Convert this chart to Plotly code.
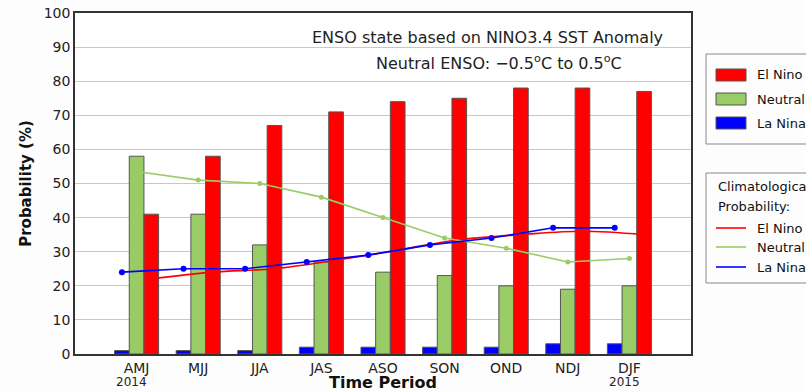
import plotly.graph_objects as go

# ---------------- data ----------------
categories = ["AMJ", "MJJ", "JJA", "JAS", "ASO", "SON", "OND", "NDJ", "DJF"]
year_labels = ["2014", "", "", "", "", "", "", "", "2015"]
la_nina = [1, 1, 1, 2, 2, 2, 2, 3, 3]
neutral = [58, 41, 32, 27, 24, 23, 20, 19, 20]
el_nino = [41, 58, 67, 71, 74, 75, 78, 78, 77]
clim_la_nina = [24, 25, 25, 27, 29, 32, 34, 37, 37]
clim_neutral = [53.5, 51, 50, 46, 40, 34, 31, 27, 28]
clim_el_nino = [22, 24, 25, 27.5, 30.5, 33.5, 35, 36, 35]
y_ticks = [0, 10, 20, 30, 40, 50, 60, 70, 80, 90, 100]

# ---------------- styling ----------------
RED = "#ff0000"
GREEN = "#99cc66"
BLUE = "#0000ff"
FONT = "DejaVu Sans"
W, H = 806, 392
ML, MR, MT, MB = 75, 115, 13, 38
PW, PH = W - ML - MR, H - MT - MB
BARGAP = 0.285
bw = (1 - BARGAP) / 3

pos = list(range(1, len(categories) + 1))


def px(x):
    return (x - ML) / PW


def py(y):
    return (H - MB - y) / PH


fig = go.Figure()

# climatological lines first so bars draw over them
fig.add_trace(go.Scatter(x=[p + bw for p in pos], y=clim_el_nino, mode="lines",
                         line=dict(color=RED, width=1.6, shape="spline", smoothing=1),
                         name="Clim El Nino", showlegend=False, hoverinfo="y"))
fig.add_trace(go.Scatter(x=pos, y=clim_neutral, mode="lines+markers",
                         line=dict(color=GREEN, width=1.6), marker=dict(size=5, color=GREEN),
                         name="Clim Neutral", showlegend=False, hoverinfo="y"))
fig.add_trace(go.Scatter(x=[p - bw for p in pos], y=clim_la_nina, mode="lines+markers",
                         line=dict(color=BLUE, width=1.6), marker=dict(size=6, color=BLUE),
                         name="Clim La Nina", showlegend=False, hoverinfo="y"))

bar_line = dict(color="#555555", width=1)
fig.add_trace(go.Bar(x=pos, y=la_nina, name="La Nina", marker=dict(color=BLUE, line=bar_line), showlegend=False))
fig.add_trace(go.Bar(x=pos, y=neutral, name="Neutral", marker=dict(color=GREEN, line=bar_line), showlegend=False))
fig.add_trace(go.Bar(x=pos, y=el_nino, name="El Nino", marker=dict(color=RED, line=bar_line), showlegend=False))

shapes = []
annotations = []

# text box in the plot
annotations.append(dict(x=px(487.5), y=py(37), xref="paper", yref="paper", showarrow=False,
                        text="ENSO state based on NINO3.4 SST Anomaly",
                        font=dict(family=FONT, size=16, color="#222222"), xanchor="center", yanchor="middle"))
annotations.append(dict(x=px(499), y=py(63), xref="paper", yref="paper", showarrow=False,
                        text="Neutral ENSO: \u22120.5<sup>o</sup>C to 0.5<sup>o</sup>C",
                        font=dict(family=FONT, size=16, color="#222222"), xanchor="center", yanchor="middle"))

# year labels under first/last categories
for p, yl in zip(pos, year_labels):
    if yl:
        annotations.append(dict(x=p, y=py(382), xref="x", yref="paper", showarrow=False, text=yl,
                                xshift=-5, font=dict(family=FONT, size=12, color="#222222"),
                                xanchor="center", yanchor="middle"))

# legend box 1 (probabilities)
shapes.append(dict(type="rect", xref="paper", yref="paper", x0=px(706), x1=px(830), y0=py(144), y1=py(54),
                   line=dict(color="#888888", width=1), fillcolor="rgba(0,0,0,0)"))
for name, col, yc in [("El Nino", RED, 75), ("Neutral", GREEN, 99), ("La Nina", BLUE, 123)]:
    shapes.append(dict(type="rect", xref="paper", yref="paper", x0=px(716), x1=px(746),
                       y0=py(yc + 6), y1=py(yc - 6), line=dict(color="#555555", width=1), fillcolor=col))
    annotations.append(dict(x=px(755), y=py(yc), xref="paper", yref="paper", showarrow=False, text=name,
                            font=dict(family=FONT, size=13, color="#111111"), xanchor="left", yanchor="middle"))

# legend box 2 (climatological probability)
shapes.append(dict(type="rect", xref="paper", yref="paper", x0=px(706), x1=px(830), y0=py(283), y1=py(173),
                   line=dict(color="#888888", width=1), fillcolor="rgba(0,0,0,0)"))
annotations.append(dict(x=px(716), y=py(186), xref="paper", yref="paper", showarrow=False, text="Climatological",
                        font=dict(family=FONT, size=13, color="#111111"), xanchor="left", yanchor="middle"))
annotations.append(dict(x=px(716), y=py(207), xref="paper", yref="paper", showarrow=False, text="Probability:",
                        font=dict(family=FONT, size=13, color="#111111"), xanchor="left", yanchor="middle"))
for name, col, yc in [("El Nino", RED, 228), ("Neutral", GREEN, 247), ("La Nina", BLUE, 267)]:
    shapes.append(dict(type="line", xref="paper", yref="paper", x0=px(716), x1=px(746),
                       y0=py(yc), y1=py(yc), line=dict(color=col, width=1.6)))
    annotations.append(dict(x=px(755), y=py(yc), xref="paper", yref="paper", showarrow=False, text=name,
                            font=dict(family=FONT, size=13, color="#111111"), xanchor="left", yanchor="middle"))

fig.update_layout(
    template="none",
    width=W, height=H,
    margin=dict(l=ML, r=MR, t=MT, b=MB, pad=0, autoexpand=False),
    paper_bgcolor="#fdfdfd", plot_bgcolor="#ffffff",
    barmode="group", bargap=BARGAP, bargroupgap=0,
    font=dict(family=FONT, size=14, color="#222222"),
    shapes=shapes, annotations=annotations,
    xaxis=dict(range=[0, len(categories) + 1], tickmode="array", tickvals=pos, ticktext=categories,
               showgrid=False, zeroline=False, showline=True, linecolor="#333333", linewidth=1.5,
               mirror=True, ticks="", automargin=False,
               tickfont=dict(family=FONT, size=14, color="#222222"),
               title=dict(text="<b>Time Period</b>", font=dict(family=FONT, size=16, color="#111111"),
                          standoff=3)),
    yaxis=dict(range=[0, 100], tickmode="array", tickvals=y_ticks, showgrid=True,
               gridcolor="#c8c8c8", gridwidth=1, zeroline=False, showline=True,
               linecolor="#333333", linewidth=1.5, mirror=True, ticks="", automargin=False,
               tickfont=dict(family=FONT, size=14, color="#222222"),
               title=dict(text="<b>Probability (%)</b>", font=dict(family=FONT, size=15, color="#111111"),
                          standoff=8)),
)

fig.write_html("out.html", config={"displayModeBar": False},
               post_script="document.body.style.margin='0';")
